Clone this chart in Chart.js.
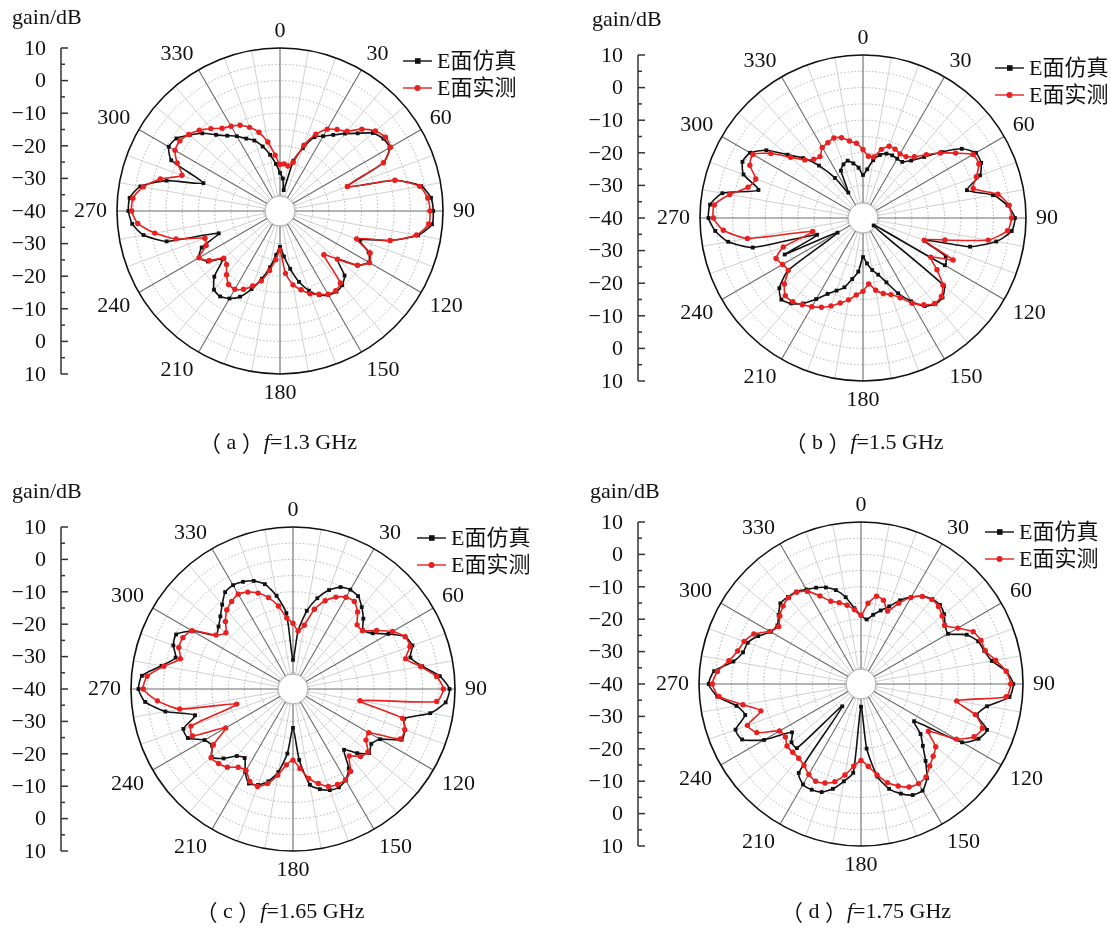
<!DOCTYPE html>
<html>
<head>
<meta charset="utf-8">
<script src="https://cdn.jsdelivr.net/npm/chart.js@4.4.1/dist/chart.umd.min.js"></script>
<style>
html,body{margin:0;padding:0;background:#fff;}
#wrap{position:relative;width:1111px;height:929px;overflow:hidden;background:#fff;}
canvas{position:absolute;}
</style>
</head>
<body>
<div id="wrap">
<canvas id="cA" width="555" height="464" style="left:0;top:0"></canvas>
<canvas id="cB" width="555" height="464" style="left:556px;top:0"></canvas>
<canvas id="cC" width="555" height="464" style="left:0;top:465px"></canvas>
<canvas id="cD" width="555" height="464" style="left:556px;top:465px"></canvas>
</div>
<script>
// ---------- categories: azimuth angle (deg), 5-degree steps ----------
const ANGLES = Array.from({length: 72}, (_, i) => i * 5);
const ANGLE_LABELS = [0, 30, 60, 90, 120, 150, 180, 210, 240, 270, 300, 330];
// left gain axis (top -> centre -> bottom)
const GAIN_TICKS = [10, 0, -10, -20, -30, -40, -30, -20, -10, 0, 10];
const GAIN_MINOR = [5, -5, -15, -25, -35];
const R_MIN = -40, R_MAX = 10, R_STEP = 5;
const HOLE_VALUE = -35.4;
const SERIES_NAMES = ['E面仿真', 'E面实测'];
const FREQS = ['1.3', '1.5', '1.65', '1.75'];
const LETTERS = ['a', 'b', 'c', 'd'];

// ---------- (a) f = 1.3 GHz ----------
const SIM_13 = [-28.3,-30,-33.5,-24,-19.5,-15,-13.5,-11.5,-9,-6.3,-2.8,-1.3,
  -1.2,-5,-18,-3.5,4,6.5,7,6.8,3,-5,-14,-10,
  -8.5,-11,-17,-12,-10.3,-9.8,-10.3,-11.5,-14,-17.5,-22,-26,
  -29,-26.5,-22.5,-18.5,-14.5,-11,-9,-8,-8.5,-11.5,-17,-13,
  -11.3,-13.5,-20,-4,2.5,5.5,6.5,6.3,3.5,-4,-15,-3.2,
  -0.6,-1.2,-3.8,-6.3,-9.5,-11.8,-13.5,-15.5,-17,-19.5,-22.5,-25.5];
const MEAS_13 = [-25.7,-25.5,-26,-24.5,-18.5,-14,-11,-9.5,-8,-4.5,-1.8,-0.5,
  -0.9,-5,-18,-3.5,3.5,5.5,6,5.8,2.5,-5,-15,-9.5,
  -8.3,-11,-17,-21,-11.2,-10.2,-10.5,-11.8,-13,-15,-17,-20.8,
  -28,-25,-21.5,-17.8,-15.5,-13.5,-12.3,-12.5,-14.5,-16.8,-17.5,-13.5,
  -11.3,-15,-15.5,-7,-1,3.8,5.5,5.3,2.6,-2,-8,-5.2,
  -2.8,-2.5,-3.5,-5,-7,-9,-10,-11,-12.7,-15,-18.5,-22.8];

// ---------- (b) f = 1.5 GHz ----------
const SIM_15 = [-26.8,-25,-22,-20,-19,-18.8,-19,-19,-17,-13.5,-8.5,-3,
  0,0,-1.8,-7,0.5,4.5,6.6,5.8,1.5,-6,-20,-12,
  -11,-36,-7.6,-5.5,-5.5,-7,-10.5,-14.5,-19,-22,-23.8,-26,
  -28,-23.5,-21,-18,-16.3,-14.3,-11.3,-8,-5.8,-4.6,-6.5,-12,
  -31,-13.5,-25,-5,2,5.5,7.4,7.1,3.8,-6.8,-1,0.8,
  0,-3.8,-9.8,-14,-19,-25,-31,-24,-22.5,-21.8,-23,-24.5];
const MEAS_15 = [-19,-21,-21,-18.2,-16.6,-16.7,-17.3,-17,-15.5,-12.5,-9,-5.3,
  -1,-0.8,-3,-5,2,5,5.6,4.5,-1,-14,-20,-9.5,
  -16,-12.3,-8,-6,-5.8,-7.5,-9.8,-13,-15,-16,-17.5,-19.7,
  -17.5,-16.3,-14.5,-13,-11.3,-9.8,-8.6,-7.5,-6.5,-6.3,-8.5,-12,
  -11.5,-10.6,-14,-24,-4,3,5.9,5.8,1.5,-3.5,-5,-1.7,
  -1,-5.5,-11,-14.8,-16.5,-17,-15,-14.5,-13.9,-14.5,-16,-17];

// ---------- (c) f = 1.65 GHz ----------
const SIM_165 = [-31,-22,-15.5,-11,-7.5,-5.3,-4.6,-5,-7,-9.3,-11.8,-10,
  -6,-1.8,-0.8,-2.5,0.5,5.5,8.3,7.3,3,-4.5,-3.2,-3,
  -9,-10.5,-9.3,-12,-15.5,-10,-7.5,-6.5,-6.8,-8,-10,-18,
  -28,-20,-14,-10.5,-8.5,-7.8,-10.5,-14,-13,-9.7,-7.3,-9.5,
  -8.5,-4.2,-4,-8.7,0,5.8,7.7,6.8,1.2,-2.5,-0.7,-0.2,
  -4.2,-11,-10,-8.3,-6,-3.5,-3,-3.5,-4.5,-6.5,-10.8,-16.5];
const MEAS_165 = [-19.7,-22,-20,-14.5,-11,-8.7,-7.3,-7,-9,-12,-12,-8.5,
  -4.5,-1.8,-1.6,-4,0,4.5,6.4,4.5,-19,-5,-3.3,-3.5,
  -13,-12.5,-9.8,-10.5,-13,-9,-7.6,-7.5,-8,-9.8,-12,-15.4,
  -18,-16.5,-13,-9.8,-8,-8.5,-11,-10.5,-8.5,-7.5,-7,-10,
  -16,-5.8,-6.5,-22,-4.5,2,6.2,5.2,0.5,-4,-2.5,-2.5,
  -4,-11,-13,-10.5,-8.2,-7,-6.2,-7,-8.5,-10.8,-14,-18];

// ---------- (d) f = 1.75 GHz ----------
const SIM_175 = [-18.8,-20,-18.3,-16.5,-14.5,-11.5,-9,-7,-5.8,-5.5,-6.5,-8.3,
  -9,-4,-1.5,-0.6,1,5,7,6,-0.5,-3,1.4,0,
  -4,-20,-16,-13,-9,-4.5,-2,-2.2,-4,-6.5,-11,-20,
  -33,-12.5,-9.5,-6.5,-4.5,-4,-4.2,-6.5,-31,-12,-12,-14,
  -5.5,0.5,1.2,-3,-1,4.5,7,5.5,0,-2.3,-2.8,-5,
  -7.8,-8.5,-6.8,-4.8,-4.9,-5.2,-6.3,-7.2,-8.3,-10,-12.8,-16.5];
const MEAS_175 = [-18.8,-15,-12.5,-13.2,-16,-12.5,-9.2,-7,-6,-6.2,-7.3,-8.5,
  -5.5,-1.8,-0.6,-0.3,2.2,5,6.2,5,-10,-3.5,-0.1,-1.5,
  -6,-14.6,-9.9,-8.5,-7,-5,-4.5,-4.9,-6.5,-8.5,-11.5,-14.5,
  -16.4,-14.5,-11.5,-8.8,-7.5,-6.9,-7.8,-9.3,-10.1,-10.2,-10.2,-11.5,
  -11,-4.5,-2.7,-8,-3,4,5.9,4.5,1.4,-0.6,-1.6,-3.5,
  -7.5,-9,-7.3,-6,-5.2,-5.4,-7,-10,-12.8,-14,-15.3,-17];

const SIM = [SIM_13, SIM_15, SIM_165, SIM_175];
const MEAS = [MEAS_13, MEAS_15, MEAS_165, MEAS_175];

// ---------- layout of the four panels (canvas-relative) ----------
const PANELS = [
  {id:'cA', pad:{left:117,top:48,right:112,bottom:90}, axisX:61, title:{x:12,y:18},
   legend:{x:403,y:61}, caption:{x:278,y:443}},
  {id:'cB', pad:{left:144,top:55,right:85,bottom:83}, axisX:82, title:{x:36,y:20},
   legend:{x:439,y:68}, caption:{x:308,y:443}},
  {id:'cC', pad:{left:131,top:62,right:100,bottom:78}, axisX:61, title:{x:12,y:27},
   legend:{x:417,y:73}, caption:{x:280,y:447}},
  {id:'cD', pad:{left:143,top:57,right:88,bottom:83}, axisX:82, title:{x:34,y:27},
   legend:{x:429,y:67}, caption:{x:310,y:447}}
];

const SERIF = "'Liberation Serif','Times New Roman','Noto Sans CJK SC',serif";
const FS = 22;
const BLACK = '#111111', RED = '#e8201f';

function fmt(v){ return v < 0 ? '\u2212' + Math.abs(v) : String(v); }

const decor = {
  id: 'decor',
  beforeDatasetsDraw(chart, args, o) {
    const s = chart.scales.r, ctx = chart.ctx;
    const cx = s.xCenter, cy = s.yCenter, R = s.drawingArea;
    ctx.save();
    ctx.beginPath(); ctx.arc(cx, cy, R, 0, Math.PI * 2);
    ctx.strokeStyle = '#111'; ctx.lineWidth = 1.6; ctx.stroke();
    const hr = s.getDistanceFromCenterForValue(HOLE_VALUE);
    ctx.beginPath(); ctx.arc(cx, cy, hr, 0, Math.PI * 2);
    ctx.fillStyle = '#fff'; ctx.fill();
    ctx.strokeStyle = '#9a9a9a'; ctx.lineWidth = 0.8; ctx.stroke();
    ctx.restore();
  },
  afterDraw(chart, args, o) {
    const s = chart.scales.r, ctx = chart.ctx;
    const cx = s.xCenter, cy = s.yCenter, R = s.drawingArea;
    ctx.save();
    ctx.fillStyle = '#111';
    ctx.font = FS + 'px ' + SERIF;
    // angle labels
    ANGLE_LABELS.forEach(a => {
      const p = s.getPointPosition(a / 5, R + 10);
      if (a === 0 || a === 180) ctx.textAlign = 'center';
      else if (a < 180) ctx.textAlign = 'left';
      else ctx.textAlign = 'right';
      if (a === 90 || a === 270) ctx.textBaseline = 'middle';
      else if (a < 90 || a > 270) ctx.textBaseline = 'alphabetic';
      else ctx.textBaseline = 'top';
      const dy = (ctx.textBaseline === 'top') ? -2 : (ctx.textBaseline === 'alphabetic' ? -1 : 0);
      ctx.fillText(String(a), p.x, p.y + dy);
    });
    // left gain axis
    const ax = o.axisX;
    ctx.strokeStyle = '#333'; ctx.lineWidth = 1.5;
    ctx.beginPath(); ctx.moveTo(ax, cy - R); ctx.lineTo(ax, cy + R); ctx.stroke();
    ctx.textAlign = 'right'; ctx.textBaseline = 'middle';
    GAIN_TICKS.forEach((v, i) => {
      const d = s.getDistanceFromCenterForValue(v);
      const y = i < 5 ? cy - d : (i === 5 ? cy : cy + d);
      ctx.beginPath(); ctx.moveTo(ax, y); ctx.lineTo(ax + 7, y); ctx.stroke();
      ctx.fillText(fmt(v), ax - 15, y + 1);
    });
    GAIN_MINOR.forEach(v => {
      const d = s.getDistanceFromCenterForValue(v);
      [cy - d, cy + d].forEach(y => {
        ctx.beginPath(); ctx.moveTo(ax, y); ctx.lineTo(ax + 4, y); ctx.stroke();
      });
    });
    ctx.textAlign = 'left';
    ctx.fillText('gain/dB', o.title.x, o.title.y);
    // legend
    const L = o.legend;
    chart.data.datasets.forEach((ds, k) => {
      const y = L.y + k * 27;
      ctx.strokeStyle = ds.borderColor; ctx.lineWidth = 1.4;
      ctx.beginPath(); ctx.moveTo(L.x, y); ctx.lineTo(L.x + 29, y); ctx.stroke();
      ctx.fillStyle = ds.borderColor;
      if (ds.pointStyle === 'rect') ctx.fillRect(L.x + 12, y - 2.8, 5.6, 5.6);
      else { ctx.beginPath(); ctx.arc(L.x + 14.5, y, 3, 0, Math.PI * 2); ctx.fill(); }
      ctx.fillStyle = '#111';
      ctx.textBaseline = 'middle';
      ctx.fillText(ds.label, L.x + 34, y + 1);
    });
    // caption
    const C = o.caption;
    const parts = [
      {t: '（', f: FS + "px 'Noto Sans CJK SC',sans-serif"},
      {t: ' ' + o.letter + ' ', f: FS + 'px ' + SERIF},
      {t: '）', f: FS + "px 'Noto Sans CJK SC',sans-serif"},
      {t: 'f', f: 'italic ' + FS + 'px ' + SERIF},
      {t: '=' + o.freq + ' GHz', f: FS + 'px ' + SERIF}
    ];
    let w = 0;
    parts.forEach(p => { ctx.font = p.f; p.w = ctx.measureText(p.t).width; w += p.w; });
    let x = C.x - w / 2;
    ctx.textAlign = 'left'; ctx.textBaseline = 'middle';
    parts.forEach(p => { ctx.font = p.f; ctx.fillText(p.t, x, C.y); x += p.w; });
    ctx.restore();
  }
};

PANELS.forEach((P, k) => {
  new Chart(document.getElementById(P.id), {
    type: 'radar',
    data: {
      labels: ANGLES.map(String),
      datasets: [
        {label: SERIES_NAMES[0], data: SIM[k], borderColor: BLACK, backgroundColor: BLACK,
         pointStyle: 'rect', pointRadius: 2.7, pointBorderWidth: 0, borderWidth: 1.6,
         fill: false, tension: 0.2, order: 2},
        {label: SERIES_NAMES[1], data: MEAS[k], borderColor: RED, backgroundColor: RED,
         pointStyle: 'circle', pointRadius: 2.7, pointBorderWidth: 0, borderWidth: 1.6,
         fill: false, tension: 0.2, order: 1}
      ]
    },
    options: {
      responsive: false, animation: false, devicePixelRatio: 1, events: [],
      layout: {padding: P.pad},
      plugins: {
        legend: {display: false}, tooltip: {enabled: false},
        decor: {axisX: P.axisX, title: P.title, legend: P.legend, caption: P.caption,
                letter: LETTERS[k], freq: FREQS[k]}
      },
      scales: {
        r: {
          min: R_MIN, max: R_MAX,
          ticks: {display: false, stepSize: R_STEP},
          pointLabels: {display: false},
          grid: {circular: true, color: '#a9a9a9', lineWidth: 0.9},
          border: {dash: [1.5, 2]},
          angleLines: {
            color: c => (c.index % 6 === 0 ? '#6a6a6a' : '#c4c4c4'),
            lineWidth: c => (c.index % 6 === 0 ? 1.1 : (c.index % 2 === 0 ? 0.8 : 0))
          }
        }
      }
    },
    plugins: [decor]
  });
});
</script>
</body>
</html>
